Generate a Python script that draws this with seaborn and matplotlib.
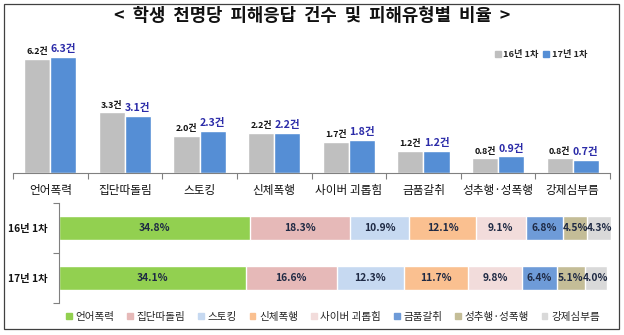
import matplotlib
matplotlib.use("Agg")
import matplotlib.pyplot as plt
from matplotlib.patches import Patch, Rectangle
import numpy as np
import pandas as pd
import seaborn as sns

# ---- data ----
categories = ["언어폭력", "집단따돌림", "스토킹", "신체폭행", "사이버 괴롭힘", "금품갈취", "성추행·성폭행", "강제심부름"]
periods = ["16년 1차", "17년 1차"]
counts_16 = [6.2, 3.3, 2.0, 2.2, 1.7, 1.2, 0.8, 0.8]
counts_17 = [6.3, 3.1, 2.3, 2.2, 1.8, 1.2, 0.9, 0.7]
share_16 = [34.8, 18.3, 10.9, 12.1, 9.1, 6.8, 4.5, 4.3]
share_17 = [34.1, 16.6, 12.3, 11.7, 9.8, 6.4, 5.1, 4.0]

bar_colors = ["#BFBFBF", "#558ED5"]
seg_colors = ["#92D050", "#E6B9B8", "#C6D9F1", "#FAC090", "#F2DCDB", "#6E9BD8", "#C4BD97", "#D9D9D9"]

sns.set_theme(style="white")
plt.rcParams["font.family"] = ["Noto Sans CJK KR", "DejaVu Sans"]

fig = plt.figure(figsize=(6.24, 3.35), dpi=100)
W, H = 624, 335


def box(x0, y0, x1, y1):
    return [x0 / W, 1 - y1 / H, (x1 - x0) / W, (y1 - y0) / H]


# outer frame
fig.patches.append(Rectangle((3.5 / W, 1 - 329 / H), 615.5 / W, 325 / H, transform=fig.transFigure,
                             fill=False, edgecolor="#404040", linewidth=0.9))

fig.text(312 / W, 1 - 16 / H, "<  학생  천명당  피해응답  건수  및  피해유형별  비율  >",
         ha="center", va="center", fontsize=12.8, fontweight="bold", color="#111111")

# ---- top: grouped bars ----
ax1 = fig.add_axes(box(13, 35, 610, 173))
df_counts = pd.DataFrame({
    "유형": categories * 2,
    "시점": [periods[0]] * len(categories) + [periods[1]] * len(categories),
    "건수": counts_16 + counts_17,
})
sns.barplot(data=df_counts, x="유형", y="건수", hue="시점", order=categories, hue_order=periods,
            palette=bar_colors, width=0.7, gap=0, saturation=1, errorbar=None, legend=False, ax=ax1)
ax1.set_ylim(0, 7.5)
ax1.set_xlim(-0.5, len(categories) - 0.5)
ax1.set_xlabel("")
ax1.set_ylabel("")
ax1.set_yticks([])
for s in ["top", "right", "left"]:
    ax1.spines[s].set_visible(False)
ax1.spines["bottom"].set_color("#808080")
ax1.spines["bottom"].set_linewidth(0.8)
ax1.set_xticks(np.arange(len(categories)))
ax1.set_xticklabels(categories, fontsize=8.4, color="#111111")
ax1.tick_params(axis="x", which="major", length=0, pad=8)
ax1.set_xticks(np.arange(len(categories) + 1) - 0.5, minor=True)
ax1.tick_params(axis="x", which="minor", length=4, width=0.8, color="#808080", direction="out", bottom=True)

for i, container in enumerate(ax1.containers):
    vals = counts_16 if i == 0 else counts_17
    labels = [f"{v:.1f}건" for v in vals]
    if i == 0:
        ax1.bar_label(container, labels=labels, padding=2, fontsize=6.4, fontweight="bold", color="#111111")
    else:
        ax1.bar_label(container, labels=labels, padding=2, fontsize=7.6, fontweight="bold", color="#2B2BA8")

ax1.legend(handles=[Patch(color=c, label=p) for c, p in zip(bar_colors, periods)],
           loc="center", bbox_to_anchor=(541 / W, 1 - 55 / H), bbox_transform=fig.transFigure,
           ncol=2, frameon=False, prop={"weight": "bold", "size": 6.6},
           handlelength=0.6, handleheight=0.6, handletextpad=0.3, columnspacing=0.5, borderaxespad=0)

# ---- bottom: stacked 100% bars ----
ax2 = fig.add_axes(box(59, 203, 611, 303))
shares = np.array([share_16, share_17])
cum = np.cumsum(shares, axis=1)
# draw cumulative totals from the outermost segment inward so each segment shows its own colour
for j in range(len(categories) - 1, -1, -1):
    sns.barplot(x=cum[:, j], y=periods, orient="h", color=seg_colors[j], saturation=1,
                width=0.47, errorbar=None, ax=ax2)
for r in range(len(periods)):
    for j in range(len(categories)):
        ax2.text(cum[r, j] - shares[r, j] / 2, r, f"{shares[r, j]:.1f}%", ha="center", va="center",
                 fontsize=7.4, fontweight="bold", color="#1F2A44")
ax2.set_xlim(0, 100.8)
ax2.set_ylim(1.5, -0.5)
ax2.set_xticks([])
ax2.set_xlabel("")
ax2.set_ylabel("")
for s in ["top", "right", "bottom"]:
    ax2.spines[s].set_visible(False)
ax2.spines["left"].set_color("#808080")
ax2.spines["left"].set_linewidth(0.8)
ax2.set_yticks([0, 1])
ax2.set_yticklabels(periods, fontsize=7.4, fontweight="bold", color="#111111")
ax2.tick_params(axis="y", which="major", length=0, pad=8)
ax2.set_yticks([-0.5, 0.5, 1.5], minor=True)
ax2.tick_params(axis="y", which="minor", length=4, width=0.8, color="#808080", direction="out", left=True)

fig.legend(handles=[Patch(color=c, label=n) for c, n in zip(seg_colors, categories)],
           loc="center", bbox_to_anchor=(333 / W, 1 - 317 / H), ncol=len(categories), frameon=False,
           fontsize=7.6, handlelength=0.55, handleheight=0.55, handletextpad=0.35, columnspacing=1.2,
           borderaxespad=0)

fig.savefig("out.png", dpi=100)
